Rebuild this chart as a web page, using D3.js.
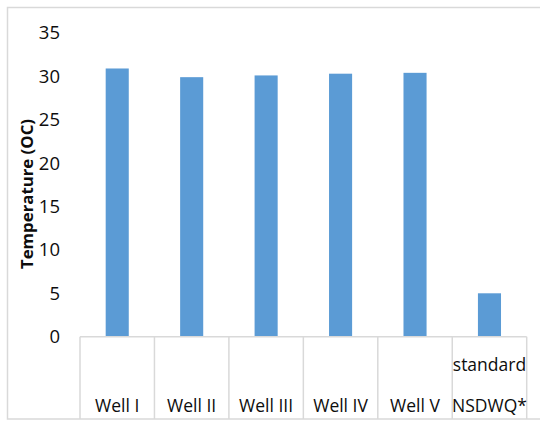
<!DOCTYPE html>
<html>
<head>
<meta charset="utf-8">
<script src="https://cdn.jsdelivr.net/npm/d3@7"></script>
<style>
  html, body { margin: 0; padding: 0; background: #fff; }
  svg { display: block; }
  text { font-family: "Open Sans", "Noto Sans", sans-serif; fill: #0d0d0d; }
</style>
</head>
<body>
<svg id="chart" width="540" height="421"></svg>
<script>
// Water temperature by well, against the NSDWQ standard
const categories = ["Well I", "Well II", "Well III", "Well IV", "Well V", "standard NSDWQ*"];
const labelLines = [["Well I"], ["Well II"], ["Well III"], ["Well IV"], ["Well V"], ["standard", "NSDWQ*"]];
const temperatures = [30.9, 29.9, 30.1, 30.3, 30.4, 5.0];
const yTicks = [0, 5, 10, 15, 20, 25, 30, 35];
const yTitle = "Temperature (OC)";

const svg = d3.select("#chart");

const plot = { left: 80, right: 526.7, top: 32.9, bottom: 336.7, frameBottom: 419 };

const x = d3.scaleBand().domain(categories).range([plot.left, plot.right]).padding(0);
const y = d3.scaleLinear().domain([0, 35]).range([plot.bottom, plot.top]);

// outer chart frame
svg.append("rect")
  .attr("x", 7.5).attr("y", 7.5)
  .attr("width", 540).attr("height", plot.frameBottom - 7.5)
  .attr("fill", "none").attr("stroke", "#d9d9d9").attr("stroke-width", 1.5);

// bars
const barW = x.bandwidth() * 0.31;
svg.append("g").selectAll("rect")
  .data(categories)
  .join("rect")
  .attr("x", (d) => x(d) + (x.bandwidth() - barW) / 2)
  .attr("y", (d, i) => y(temperatures[i]))
  .attr("width", barW)
  .attr("height", (d, i) => y(0) - y(temperatures[i]))
  .attr("fill", "#5b9bd5");

// category axis: baseline plus box separators reaching the frame
const grid = svg.append("g").attr("stroke", "#d9d9d9").attr("stroke-width", 1.5);
grid.append("line")
  .attr("x1", plot.left).attr("x2", plot.right)
  .attr("y1", y(0)).attr("y2", y(0));
const edges = categories.map((d) => x(d)).concat([x(categories[categories.length - 1]) + x.bandwidth()]);
grid.selectAll("line.sep")
  .data(edges)
  .join("line")
  .attr("class", "sep")
  .attr("x1", (d) => d).attr("x2", (d) => d)
  .attr("y1", y(0)).attr("y2", plot.frameBottom);

// category labels, bottom aligned
const lineGap = 41;
const labels = svg.append("g").attr("text-anchor", "middle").attr("font-size", 17.5);
categories.forEach((c, i) => {
  const lines = labelLines[i];
  lines.forEach((t, j) => {
    labels.append("text")
      .attr("x", x(c) + x.bandwidth() / 2)
      .attr("y", 411.5 - (lines.length - 1 - j) * lineGap)
      .text(t);
  });
});

// value axis tick labels
svg.append("g").attr("text-anchor", "end").attr("font-size", 18.5)
  .selectAll("text")
  .data(yTicks)
  .join("text")
  .attr("x", 60)
  .attr("y", (d) => y(d))
  .attr("dy", "0.35em")
  .text((d) => d);

// value axis title
svg.append("text")
  .attr("transform", `translate(33,194) rotate(-90)`)
  .attr("text-anchor", "middle")
  .attr("font-size", 16.8)
  .attr("font-weight", "bold")
  .text(yTitle);
</script>
</body>
</html>
